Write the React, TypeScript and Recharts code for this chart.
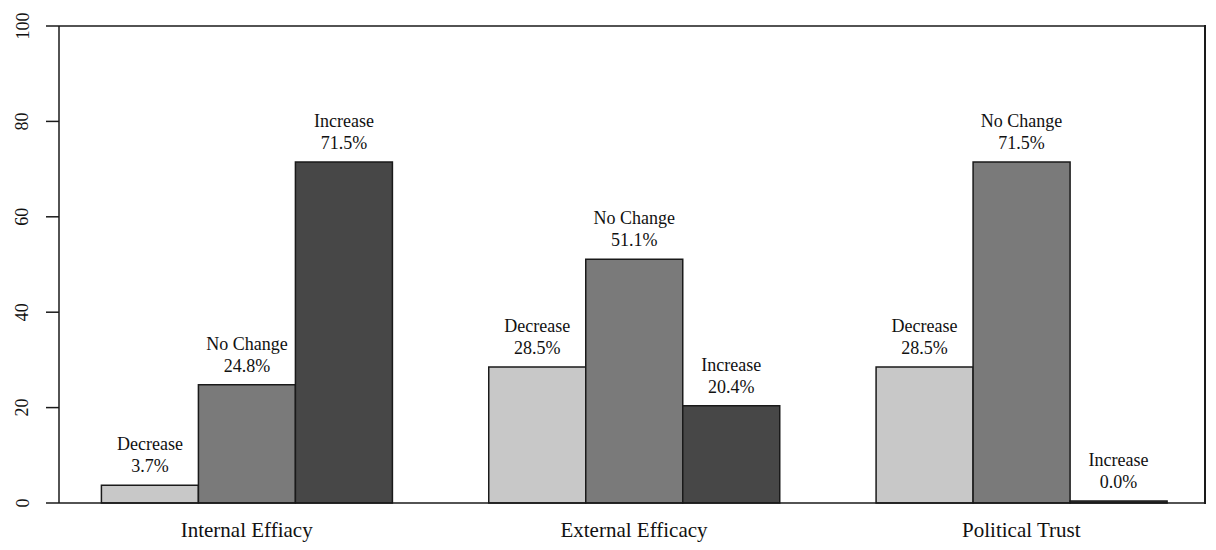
import { Bar, BarChart, LabelList, XAxis, YAxis } from 'recharts'

const categories = ['Internal Effiacy', 'External Efficacy', 'Political Trust']
const decrease = [3.7, 28.5, 28.5]
const noChange = [24.8, 51.1, 71.5]
const increase = [71.5, 20.4, 0.0]
const yTicks = [0, 20, 40, 60, 80, 100]

const data = categories.map((name, i) => ({
  name,
  decrease: decrease[i],
  noChange: noChange[i],
  increase: increase[i],
}))

const FONT = '"Liberation Serif", "Times New Roman", serif'
const INK = '#1a1a1a'

// two-line label above each bar: series name, then value
const barLabel = (title: string) => (props: any) => {
  const { x, y, width, value } = props
  const cx = Number(x) + Number(width) / 2
  return (
    <g>
      <text x={cx} y={Number(y) - 41} textAnchor="middle" dominantBaseline="central" fontFamily={FONT} fontSize={18} fill="#111">
        {title}
      </text>
      <text x={cx} y={Number(y) - 19} textAnchor="middle" dominantBaseline="central" fontFamily={FONT} fontSize={18} fill="#111">
        {Number(value).toFixed(1)}%
      </text>
    </g>
  )
}

const YTick = (props: any) => {
  const { y, payload } = props
  const tx = 14.5
  return (
    <text x={tx} y={y} transform={`rotate(-90, ${tx}, ${y})`} textAnchor="middle" dominantBaseline="central" fontFamily={FONT} fontSize={18} fill="#111">
      {payload.value}
    </text>
  )
}

const XTick = (props: any) => {
  const { x, payload } = props
  return (
    <text x={x} y={495 + 27} textAnchor="middle" dominantBaseline="central" fontFamily={FONT} fontSize={21} fill="#111">
      {payload.value}
    </text>
  )
}

export default function App() {
  return (
    <div style={{ position: 'relative', width: 1200, height: 534 }}>
      <BarChart
        width={1200}
        height={534}
        data={data}
        margin={{ top: 17, right: 0, bottom: 0, left: 0 }}
        barCategoryGap="12.5%"
        barGap={0}
      >
        <XAxis
          dataKey="name"
          height={39}
          padding={{ left: -6, right: -10 }}
          tickLine={false}
          axisLine={{ stroke: INK, strokeWidth: 1.5 }}
          tick={<XTick />}
          interval={0}
        />
        <XAxis
          xAxisId="top"
          dataKey="name"
          orientation="top"
          height={1}
          tick={false}
          tickLine={false}
          axisLine={{ stroke: INK, strokeWidth: 1.5 }}
        />
        <YAxis
          domain={[0, 100]}
          ticks={yTicks}
          width={51}
          tickSize={13}
          tickLine={{ stroke: INK, strokeWidth: 1.5 }}
          axisLine={{ stroke: INK, strokeWidth: 1.5 }}
          tick={<YTick />}
          interval={0}
        />
        <YAxis
          yAxisId="right"
          orientation="right"
          domain={[0, 100]}
          ticks={yTicks}
          width={3}
          tick={false}
          tickLine={false}
          axisLine={{ stroke: INK, strokeWidth: 1.5 }}
        />
        <Bar dataKey="decrease" fill="#c8c8c8" stroke={INK} strokeWidth={1.5} isAnimationActive={false}>
          <LabelList dataKey="decrease" content={barLabel('Decrease')} />
        </Bar>
        <Bar dataKey="noChange" fill="#7a7a7a" stroke={INK} strokeWidth={1.5} isAnimationActive={false}>
          <LabelList dataKey="noChange" content={barLabel('No Change')} />
        </Bar>
        <Bar yAxisId="right" dataKey="increase" fill="#474747" stroke={INK} strokeWidth={1.5} minPointSize={2} isAnimationActive={false}>
          <LabelList dataKey="increase" content={barLabel('Increase')} />
        </Bar>
      </BarChart>
      {/* right edge of the frame, in case the right axis line is not drawn */}
      <div style={{ position: 'absolute', left: 1196.25, top: 17.25, width: 1.5, height: 478.5, background: INK }} />
    </div>
  )
}
